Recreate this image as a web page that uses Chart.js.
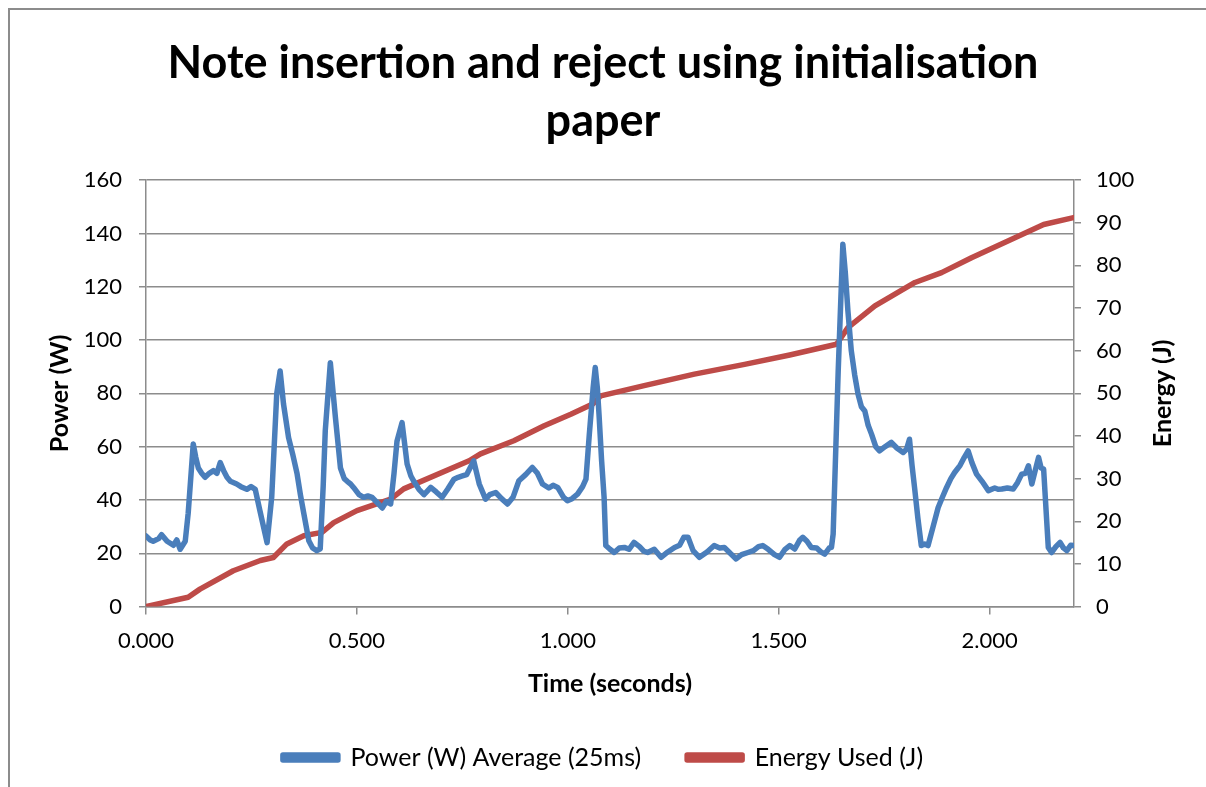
<!DOCTYPE html>
<html>
<head>
<meta charset="utf-8">
<script src="https://cdn.jsdelivr.net/npm/chart.js@4/dist/chart.umd.min.js"></script>
<style>
  html, body { margin: 0; padding: 0; background: #fff; overflow: hidden; }
  #wrap { position: relative; width: 1206px; height: 787px; }
  #frame { position: absolute; left: 8px; top: 8px; width: 1220px; height: 800px;
           border-left: 2px solid #8c8c8c; border-top: 2px solid #8c8c8c; pointer-events: none; }
</style>
</head>
<body>
<div id="wrap">
  <canvas id="chart"></canvas>
  <div id="frame"></div>
</div>
<script>
// power samples (seconds, W)
const powerTime = [
  0.000, 0.010, 0.017, 0.030, 0.037, 0.050, 0.065, 0.073, 0.081, 0.093,
  0.100, 0.112, 0.118, 0.124, 0.132, 0.140, 0.150, 0.160, 0.168, 0.176,
  0.184, 0.192, 0.200, 0.215, 0.225, 0.239, 0.249, 0.259, 0.270, 0.287,
  0.298, 0.310, 0.318, 0.326, 0.338, 0.348, 0.358, 0.366, 0.374, 0.386,
  0.395, 0.405, 0.413, 0.420, 0.425, 0.437, 0.449, 0.461, 0.470, 0.477,
  0.485, 0.492, 0.505, 0.516, 0.526, 0.536, 0.548, 0.560, 0.570, 0.580,
  0.588, 0.595, 0.607, 0.619, 0.628, 0.635, 0.647, 0.659, 0.668, 0.675,
  0.688, 0.702, 0.715, 0.730, 0.740, 0.750, 0.760, 0.777, 0.790, 0.805,
  0.815, 0.829, 0.843, 0.857, 0.870, 0.884, 0.900, 0.916, 0.928, 0.940,
  0.955, 0.965, 0.976, 0.990, 0.999, 1.010, 1.023, 1.035, 1.043, 1.051,
  1.060, 1.065, 1.070, 1.074, 1.080, 1.086, 1.090, 1.100, 1.110, 1.122,
  1.134, 1.145, 1.157, 1.170, 1.180, 1.189, 1.205, 1.221, 1.237, 1.253,
  1.265, 1.275, 1.285, 1.297, 1.312, 1.330, 1.347, 1.360, 1.371, 1.385,
  1.399, 1.412, 1.427, 1.440, 1.452, 1.462, 1.475, 1.490, 1.502, 1.515,
  1.526, 1.538, 1.550, 1.557, 1.567, 1.577, 1.590, 1.600, 1.609, 1.620,
  1.625, 1.629, 1.641, 1.652, 1.658, 1.664, 1.672, 1.680, 1.688, 1.696,
  1.704, 1.712, 1.720, 1.730, 1.739, 1.752, 1.767, 1.780, 1.795, 1.803,
  1.810, 1.816, 1.822, 1.830, 1.838, 1.846, 1.854, 1.866, 1.878, 1.888,
  1.898, 1.908, 1.917, 1.930, 1.940, 1.949, 1.958, 1.969, 1.982, 1.997,
  2.012, 2.020, 2.029, 2.042, 2.056, 2.066, 2.076, 2.085, 2.092, 2.100,
  2.108, 2.116, 2.122, 2.128, 2.139, 2.147, 2.157, 2.167, 2.175, 2.183,
  2.192, 2.199
];
const powerWatts = [
  26.5, 25, 24.5, 25.5, 27, 24.5, 23, 25, 21.5, 24.5,
  35, 61, 56, 52, 50, 48.5, 50, 51, 50, 54,
  51, 48.5, 47, 46, 45, 44, 45, 44, 36, 24,
  41, 80, 88.4, 76, 63.4, 57, 50, 42, 35, 24.7,
  22, 21, 21.7, 45, 66, 91.5, 71, 52, 48, 47,
  46, 44.7, 42, 41, 41.5, 41, 39, 37, 39.5, 38.5,
  50, 62, 69, 53.5, 49, 47, 44, 42, 43.5, 44.7,
  43, 41, 44, 47.8, 48.5, 49, 49.5, 54.7, 46, 40.3,
  42, 42.8, 40.5, 38.5, 41, 47.2, 49.5, 52.2, 50, 46,
  44.5, 45.5, 44.7, 41, 39.7, 40.5, 42.2, 45, 47.8, 64.7,
  82, 89.7, 82, 72, 55, 41, 22.9, 21.5, 20.3, 22,
  22.2, 21.5, 24.1, 22.5, 20.8, 20.3, 21.5, 18.5, 20.5, 22.2,
  23, 26, 26, 21, 18.5, 20.5, 22.9, 22, 22.2, 20,
  17.9, 19.5, 20.3, 21, 22.5, 22.9, 21.5, 19.5, 18.5, 21.5,
  22.9, 21.6, 25, 26, 24.5, 22.2, 22, 20.5, 19.7, 22,
  22.2, 27.2, 88.4, 135.9, 125, 111, 96, 87, 79.7, 75,
  73.4, 68, 64.7, 60, 58.4, 60, 61.6, 59.5, 57.8, 59,
  62.8, 53, 44.7, 33, 22.9, 23.5, 22.9, 30, 37.2, 41,
  44.7, 48, 50.3, 53, 56, 58.4, 54, 49.7, 47, 43.5,
  44.5, 44, 44.1, 44.5, 44.1, 46.5, 49.7, 50, 52.8, 46,
  51, 56, 52, 51.6, 22.2, 20.3, 22.5, 24.1, 22, 21,
  23, 22.9
];

// cumulative energy (seconds, J)
const energyTime = [
  0, 0.100, 0.128, 0.207, 0.271, 0.302, 0.334, 0.374, 0.417, 0.445,
  0.500, 0.580, 0.611, 0.766, 0.793, 0.872, 0.944, 1.007, 1.059, 1.078,
  1.181, 1.300, 1.419, 1.526, 1.637, 1.664, 1.728, 1.823, 1.886, 1.957,
  2.060, 2.128, 2.199
];
const energyJoules = [
  0, 2.2, 4.1, 8.4, 10.8, 11.5, 14.7, 16.6, 17.4, 19.7,
  22.5, 25.2, 27.6, 34.2, 35.8, 38.9, 42.4, 45.1, 47.5, 49.4,
  51.8, 54.5, 56.8, 59, 61.5, 65.4, 70.5, 76, 78.3, 81.8,
  86.5, 89.6, 91.2
];

const xTicks = [0, 0.5, 1.0, 1.5, 2.0];
const titleLines = ["Note insertion and reject using initialisation", "paper"];
const rightTitle = "Energy (J)";

const FONT = "Lato, 'Open Sans', sans-serif";
const AXIS = "#8c8c8c";

const pts = (xs, ys) => xs.map((x, i) => ({ x, y: ys[i] }));

// right axis title reads bottom-to-top like the left one
const rightTitlePlugin = {
  id: "rightTitle",
  afterDraw(chart) {
    const a = chart.chartArea;
    const c = chart.ctx;
    c.save();
    c.translate(1163, (a.top + a.bottom) / 2);
    c.rotate(-Math.PI / 2);
    c.font = `bold 25px ${FONT}`;
    c.fillStyle = "#000";
    c.textAlign = "center";
    c.textBaseline = "middle";
    c.fillText(rightTitle, 0, 0);
    c.restore();
  },
};

const ctx = document.getElementById("chart");
new Chart(ctx, {
  type: "line",
  data: {
    datasets: [
      {
        label: "Power (W) Average (25ms)",
        data: pts(powerTime, powerWatts),
        yAxisID: "y",
        borderColor: "#4a7ebb",
        backgroundColor: "#4a7ebb",
        borderWidth: 5.5,
        pointRadius: 0,
        tension: 0,
        borderJoinStyle: "round",
        borderCapStyle: "round",
      },
      {
        label: "Energy Used (J)",
        data: pts(energyTime, energyJoules),
        yAxisID: "y1",
        borderColor: "#be4b48",
        backgroundColor: "#be4b48",
        borderWidth: 5.5,
        pointRadius: 0,
        tension: 0,
        borderJoinStyle: "round",
        borderCapStyle: "round",
      },
    ],
  },
  options: {
    responsive: true,
    maintainAspectRatio: false,
    animation: false,
    layout: { padding: { left: 0, right: 0, top: 34, bottom: 7 } },
    scales: {
      x: {
        type: "linear",
        min: 0,
        max: 2.2,
        afterBuildTicks: (s) => { s.ticks = xTicks.map(v => ({ value: v })); },
        ticks: {
          color: "#000",
          font: { family: FONT, size: 22 },
          padding: 13,
          maxRotation: 0,
          callback: (v) => Number(v).toFixed(3),
        },
        grid: { drawOnChartArea: false, drawTicks: true, tickLength: 8, color: AXIS, lineWidth: 1.5 },
        border: { color: AXIS, width: 1.5 },
        title: {
          display: true,
          text: "Time (seconds)",
          color: "#000",
          font: { family: FONT, size: 25, weight: "bold" },
          padding: { top: 2, bottom: 0 },
        },
      },
      y: {
        position: "left",
        min: 0,
        max: 160,
        ticks: { stepSize: 20, color: "#000", font: { family: FONT, size: 22 }, padding: 17 },
        grid: { color: AXIS, lineWidth: 1.5, tickLength: 7 },
        border: { color: AXIS, width: 1.5 },
        title: {
          display: true,
          text: "Power (W)",
          color: "#000",
          font: { family: FONT, size: 25, weight: "bold" },
          padding: { top: 45, bottom: 0 },
        },
        afterFit: (s) => { s.width = 146; },
      },
      y1: {
        position: "right",
        min: 0,
        max: 100,
        ticks: { stepSize: 10, color: "#000", font: { family: FONT, size: 22 }, padding: 15 },
        grid: { drawOnChartArea: false, color: AXIS, lineWidth: 1.5, tickLength: 7 },
        border: { color: AXIS, width: 1.5 },
        title: { display: false },
        afterFit: (s) => { s.width = 132; },
      },
    },
    plugins: {
      title: {
        display: true,
        text: titleLines,
        color: "#000",
        font: { family: FONT, size: 45, weight: "bold", lineHeight: 1.29 },
        padding: { top: 0, bottom: 30 },
      },
      legend: {
        position: "bottom",
        labels: {
          color: "#000",
          font: { family: FONT, size: 25 },
          boxWidth: 55,
          boxHeight: 5,
          padding: 46,
        },
      },
      tooltip: { enabled: false },
    },
  },
  plugins: [rightTitlePlugin],
});
</script>
</body>
</html>
